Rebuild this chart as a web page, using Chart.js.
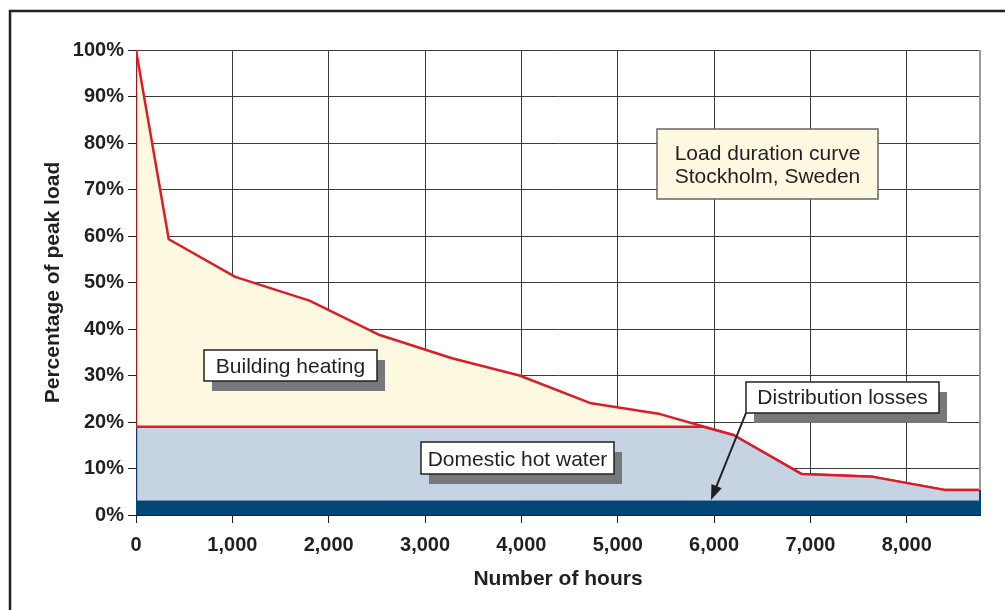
<!DOCTYPE html>
<html>
<head>
<meta charset="utf-8">
<title>Load duration curve</title>
<script src="https://cdn.jsdelivr.net/npm/chart.js@4.4.0/dist/chart.umd.min.js"></script>
<style>
    html, body { margin: 0; padding: 0; background: #fff; }
    canvas { display: block; }
</style>
</head>
<body>
<canvas id="duration" width="1005" height="610"></canvas>
<script>
// tick labels
var tickHours = [0, 1000, 2000, 3000, 4000, 5000, 6000, 7000, 8000];
var loadTicks = [0, 10, 20, 30, 40, 50, 60, 70, 80, 90, 100];

// total load (building heating on top), % of peak
var curveHours = [0, 0, 340, 1030, 1800, 2530, 3280, 3980, 4710, 5440, 6200, 6910, 7650, 8390, 8760];
var curveLoad = [19, 100, 59.3, 51.2, 46.1, 38.7, 33.7, 30.0, 24.1, 21.7, 17.2, 8.8, 8.2, 5.4, 5.4];

// domestic hot water + losses
var hotWaterHours = [0, 0, 5880, 6200, 6910, 7650, 8390, 8760];
var hotWaterLoad = [3, 19, 19, 17.2, 8.8, 8.2, 5.4, 5.4];

// distribution losses
var lossHours = [0, 8760];
var lossLoad = [3, 3];

!function () {
    "use strict";
    var ink = '#231f20';
    var red = '#d81e2a';
    var font = '"Liberation Sans", Arial, Helvetica, sans-serif';

    var pairs = function (xs, ys) {
        return xs.map(function (x, i) { return {x: x, y: ys[i]}; });
    };

    var LoadChart = function () {
    };

    LoadChart.prototype.box = function (ctx, x, y, w, h, opt) {
        if (opt.shadow) {
            ctx.fillStyle = '#77787b';
            ctx.fillRect(x + 8, y + 10, w, h);
        }
        ctx.fillStyle = opt.fill;
        ctx.fillRect(x, y, w, h);
        ctx.lineWidth = 1.5;
        ctx.strokeStyle = opt.stroke;
        ctx.strokeRect(x, y, w, h);
        ctx.fillStyle = ink;
        ctx.font = '21px ' + font;
        ctx.textAlign = 'center';
        ctx.textBaseline = 'alphabetic';
        opt.lines.forEach(function (t, i) {
            ctx.fillText(t, x + w / 2, opt.base + i * 23);
        });
    };

    LoadChart.prototype.overlay = function () {
        var self = this;
        return {
            id: 'overlay',
            beforeDraw: function (chart) {
                var ctx = chart.ctx;
                ctx.save();
                ctx.strokeStyle = ink;
                ctx.lineWidth = 2.5;
                ctx.beginPath();
                ctx.moveTo(10, 610);
                ctx.lineTo(10, 11);
                ctx.lineTo(1005, 11);
                ctx.stroke();
                ctx.restore();
            },
            afterDatasetsDraw: function (chart) {
                var ctx = chart.ctx, a = chart.chartArea;
                var yEnd = chart.scales.y.getPixelForValue(hotWaterLoad[hotWaterLoad.length - 1]);
                ctx.save();
                ctx.lineWidth = 2;
                ctx.strokeStyle = '#9a9a9a';
                ctx.beginPath();
                ctx.moveTo(a.right, a.top);
                ctx.lineTo(a.right, yEnd);
                ctx.stroke();
                ctx.strokeStyle = '#004677';
                ctx.beginPath();
                ctx.moveTo(a.right, yEnd);
                ctx.lineTo(a.right, a.bottom);
                ctx.stroke();

                self.box(ctx, 657, 129, 221, 70, {fill: '#fdf8e0', stroke: '#666', lines: ['Load duration curve', 'Stockholm, Sweden'], base: 160});
                self.box(ctx, 204, 350, 173, 31, {fill: '#fff', stroke: ink, shadow: true, lines: ['Building heating'], base: 373});
                self.box(ctx, 421, 442, 193, 32, {fill: '#fff', stroke: ink, shadow: true, lines: ['Domestic hot water'], base: 466});
                self.box(ctx, 746, 382, 193, 31, {fill: '#fff', stroke: ink, shadow: true, lines: ['Distribution losses'], base: 404});

                // arrow to the losses band
                var x0 = 746, y0 = 413, x1 = 711, y1 = 500;
                var ang = Math.atan2(y1 - y0, x1 - x0);
                ctx.strokeStyle = ink;
                ctx.fillStyle = ink;
                ctx.lineWidth = 2;
                ctx.beginPath();
                ctx.moveTo(x0, y0);
                ctx.lineTo(x1 - 10 * Math.cos(ang), y1 - 10 * Math.sin(ang));
                ctx.stroke();
                ctx.beginPath();
                ctx.moveTo(x1, y1);
                ctx.lineTo(x1 - 15 * Math.cos(ang) + 5.5 * Math.sin(ang), y1 - 15 * Math.sin(ang) - 5.5 * Math.cos(ang));
                ctx.lineTo(x1 - 15 * Math.cos(ang) - 5.5 * Math.sin(ang), y1 - 15 * Math.sin(ang) + 5.5 * Math.cos(ang));
                ctx.closePath();
                ctx.fill();
                ctx.restore();
            }
        };
    };

    LoadChart.prototype.init = function () {
        var ctx = document.getElementById('duration').getContext('2d');
        var tickFont = {family: font, size: 20, weight: 'bold'};
        var titleFont = {family: font, size: 21, weight: 'bold'};
        var grid = {color: '#3c3c3c', lineWidth: 1, tickLength: 8, tickColor: ink, drawTicks: true};

        new Chart(ctx, {
            type: 'line',
            data: {
                datasets: [{
                    label: 'Distribution losses',
                    data: pairs(lossHours, lossLoad),
                    borderColor: '#004677',
                    borderWidth: 1,
                    backgroundColor: '#004677',
                    fill: 'origin'
                }, {
                    label: 'Domestic hot water',
                    data: pairs(hotWaterHours, hotWaterLoad),
                    borderColor: red,
                    borderWidth: 2.5,
                    backgroundColor: '#c6d3e3',
                    fill: 'origin',
                    segment: {
                        borderColor: function (c) { return c.p0DataIndex === 0 ? '#0d3d66' : red; }
                    }
                }, {
                    label: 'Building heating',
                    data: pairs(curveHours, curveLoad),
                    borderColor: red,
                    borderWidth: 2.5,
                    backgroundColor: '#fdf8e0',
                    fill: 'origin',
                    segment: {
                        borderColor: function (c) { return c.p0DataIndex === 0 ? '#a3161d' : red; }
                    }
                }]
            },
            options: {
                responsive: false,
                animation: false,
                devicePixelRatio: 1,
                layout: {padding: {left: 0, top: 50, right: 25, bottom: 0}},
                elements: {
                    point: {radius: 0, hoverRadius: 0},
                    line: {tension: 0, borderJoinStyle: 'round'}
                },
                plugins: {
                    legend: {display: false},
                    tooltip: {enabled: false}
                },
                scales: {
                    x: {
                        type: 'linear',
                        min: 0,
                        max: 8760,
                        afterBuildTicks: function (s) {
                            s.ticks = tickHours.map(function (v) { return {value: v}; });
                        },
                        afterFit: function (s) { s.height = 95; },
                        ticks: {
                            font: tickFont,
                            color: ink,
                            padding: 10,
                            maxRotation: 0,
                            autoSkip: false,
                            callback: function (v) { return v.toLocaleString('en-US'); }
                        },
                        grid: grid,
                        border: {display: true, color: ink, width: 1},
                        title: {
                            display: true,
                            text: 'Number of hours',
                            font: titleFont,
                            color: ink,
                            padding: {top: 0, bottom: 18}
                        }
                    },
                    y: {
                        min: 0,
                        max: 100,
                        afterBuildTicks: function (s) {
                            s.ticks = loadTicks.map(function (v) { return {value: v}; });
                        },
                        afterFit: function (s) { s.width = 136; },
                        ticks: {
                            font: tickFont,
                            color: ink,
                            padding: 4,
                            callback: function (v) { return v + '%'; }
                        },
                        grid: grid,
                        border: {display: true, color: ink, width: 1},
                        title: {
                            display: true,
                            text: 'Percentage of peak load',
                            font: titleFont,
                            color: ink,
                            padding: {top: 41, bottom: 0}
                        }
                    }
                }
            },
            plugins: [this.overlay()]
        });
    };

    new LoadChart().init();
}();
</script>
</body>
</html>
